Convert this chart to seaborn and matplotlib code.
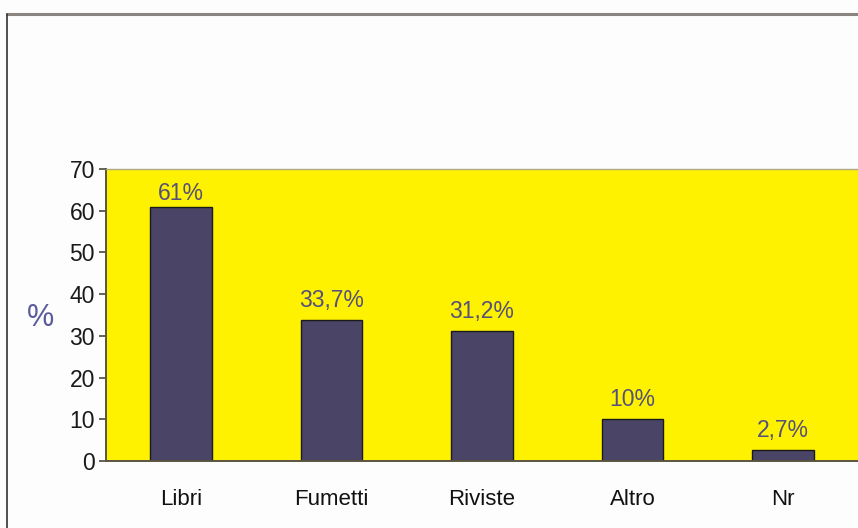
import matplotlib
matplotlib.use("Agg")
import matplotlib.pyplot as plt
import seaborn as sns
import pandas as pd
from matplotlib.lines import Line2D
from matplotlib.ticker import FixedLocator

categories = ["Libri", "Fumetti", "Riviste", "Altro", "Nr"]
values = [61, 33.7, 31.2, 10, 2.7]
value_labels = ["61%", "33,7%", "31,2%", "10%", "2,7%"]
y_ticks = [0, 10, 20, 30, 40, 50, 60, 70]

sns.set_style("white")
plt.rcParams["font.family"] = ["Liberation Sans Narrow", "Liberation Sans", "DejaVu Sans"]

df = pd.DataFrame({"cat": categories, "val": values})

fig = plt.figure(figsize=(8.58, 5.28), dpi=100)
fig.patch.set_facecolor("#fdfdfd")
ax = fig.add_axes([106 / 858, 67 / 528, 752 / 858, 292 / 528])
ax.set_facecolor("#fff200")

sns.barplot(data=df, x="cat", y="val", color="#4a4566", width=0.41,
            edgecolor="#1a1a1a", linewidth=1.0, saturation=1, ax=ax)

# labels sit above the bars, squeezed down near the top of the plot area
for i, (v, lab) in enumerate(zip(values, value_labels)):
    ax.text(i, min(v + 3.1, 62.5), lab, ha="center", va="baseline", fontsize=16.5,
            color="#55517a")

ax.set_xlim(-0.5, 4.5)
ax.set_ylim(0, 70)
ax.set_yticks(y_ticks)
ax.set_yticklabels([str(t) for t in y_ticks], fontsize=16.5, color="#1a1a1a")
ax.set_xticks(range(len(categories)))
ax.set_xticklabels(categories, fontsize=16, color="#111111")
ax.xaxis.set_minor_locator(FixedLocator([0.5, 1.5, 2.5, 3.5]))
ax.tick_params(axis="x", which="major", length=0, pad=20)
ax.tick_params(axis="x", which="minor", length=5, width=1.2, color="#4a4a3a", direction="out")
ax.tick_params(axis="y", length=5, width=1.2, color="#4a4a3a", direction="out", pad=3, left=True)
ax.set_xlabel("")
ax.set_ylabel("")

for side in ["left", "bottom"]:
    ax.spines[side].set_color("#5a5540")
    ax.spines[side].set_linewidth(1.4)
ax.spines["top"].set_color("#b0a880")
ax.spines["top"].set_linewidth(1.0)
ax.spines["right"].set_visible(False)

fig.text(40 / 858, 1 - 318 / 528, "%", fontsize=22, color="#5b5a9c",
         ha="center", va="center")

# page frame (top and left border of the original scan)
fig.add_artist(Line2D([7 / 858, 1], [1 - 14 / 528, 1 - 14 / 528], color="#8a8580",
                      linewidth=2.2, transform=fig.transFigure))
fig.add_artist(Line2D([7 / 858, 7 / 858], [0, 1 - 14 / 528], color="#333333",
                      linewidth=1.2, transform=fig.transFigure))

fig.savefig("out.png", dpi=100)
